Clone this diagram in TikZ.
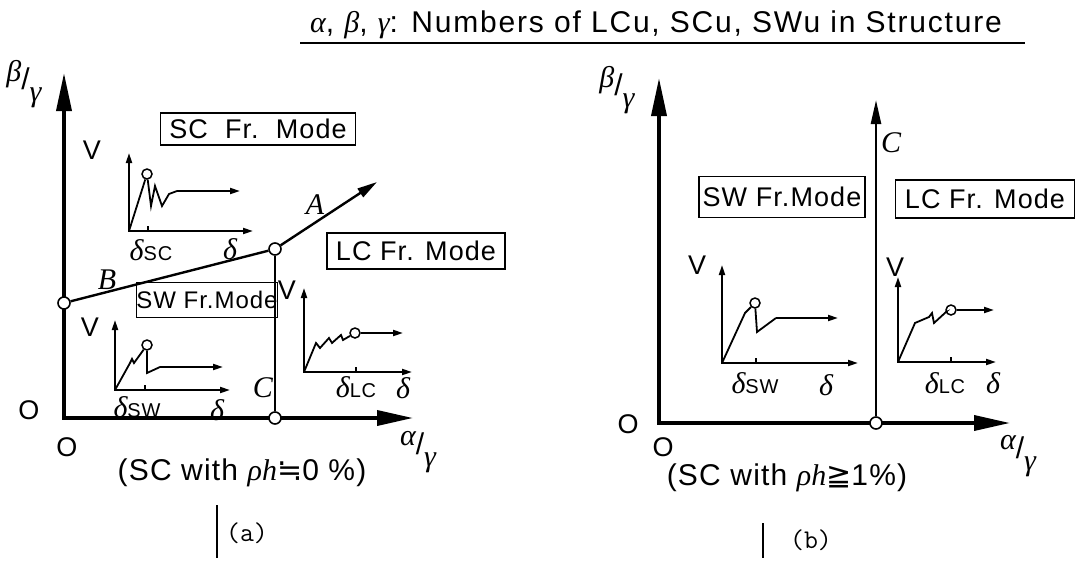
\documentclass[tikz,border=0pt]{standalone}
\usepackage{fontspec}
\setmainfont{Liberation Sans}[LetterSpace=4]
\newfontfamily\grkfont{Liberation Serif}
\newfontfamily\symfont{DejaVu Sans}
\usetikzlibrary{arrows.meta,positioning}
\newcommand{\gk}[1]{{\grkfont\itshape #1}}
\newcommand{\slantratio}[2]{\raisebox{0.55ex}{\gk{#1}}/\raisebox{-0.75ex}{\gk{#2}}}

\begin{document}
\begin{tikzpicture}[x=1pt, y=-1pt,
  every node/.style={inner sep=0pt},
  txt/.style={font=\fontsize{27}{30}\selectfont},
  sub/.style={font=\fontsize{30}{32}\selectfont},
  mathlbl/.style={font=\fontsize{30}{32}\selectfont},
  modebox/.style={draw, line width=1.4pt, txt},
  axis/.style={line width=3.6pt, {Triangle[length=38pt,width=15pt]}-{Triangle[length=36pt,width=15pt]}},
  bound/.style={line width=2.4pt},
  arr/.style={bound, -{Triangle[length=20pt,width=10pt]}},
  mini/.style={line width=1.8pt},
  miniax/.style={mini, {Triangle[length=10pt,width=6pt]}-{Triangle[length=10pt,width=6pt]}},
  miniarr/.style={mini, -{Triangle[length=10pt,width=6pt]}},
  knot/.style={circle, draw, fill=white, line width=1.6pt, minimum size=12pt},
  peak/.style={circle, draw, fill=white, line width=1.5pt, minimum size=10pt}
]
\useasboundingbox (0,0) rectangle (1077,560);

% title
\node[font=\fontsize{30}{32}\selectfont\addfontfeatures{LetterSpace=6}] (title) at (656,25)
  {\gk{α}, \gk{β}, \gk{γ}: Numbers of LCu, SCu, SWu in Structure};
\coordinate (ulL) at (300,43);
\coordinate (ulR) at (1025,43);
\draw[line width=1.4pt] (ulL) -- (ulR);

% ---- panel (a)
\coordinate (ya) at (64,73);
\coordinate (xa) at (413,418);
\draw[axis] (ya) |- (xa);
\node[knot] (pb) at (64,303) {};
\node[knot] (pm) at (275,249) {};
\node[knot] (pc) at (275,418) {};
\coordinate (atip) at (377,182);
\draw[bound] (pb) -- (pm);
\draw[arr] (pm) -- (atip);
\draw[bound] (pm) -- (pc);

\node[mathlbl] (la) at (315,205) {\gk{A}};
\node[mathlbl] (lb) at (107,280) {\gk{B}};
\node[mathlbl] (lc) at (263,388) {\gk{C}};
\node[mathlbl] (yla) at (24,84) {\slantratio{β}{γ}};
\node[mathlbl] (xla) at (418,452) {\slantratio{α}{γ}};
\node[txt] (oleft) at (29,410) {O};
\node[txt] (ozero) at (67,447) {O};

\node[modebox, minimum width=195pt, minimum height=32pt] (scmode) at (258,129) {SC~~Fr.~~Mode};
\node[modebox, minimum width=178pt, minimum height=36pt] (lcmode) at (416,251) {LC Fr. Mode};
\node[modebox, font=\fontsize{24}{26}\selectfont, minimum width=140pt, minimum height=35pt] (swmode) at (207,300) {SW Fr.Mode};

\node[txt] (vsc) at (92,150) {V};
\node[txt] (vsw) at (90,327) {V};
\node[txt] (vlc) at (287,290) {V};

% SC curve
\begin{scope}[shift={(129,231)}]
  \draw[miniax] (0,-78) |- (124,0);
  \draw[mini] (19,0) -- (19,-5);
  \node[peak] (scpk) at (18,-57) {};
  \draw[mini] (0,0) -- (scpk);
  \draw[mini] (scpk) -- (22,-25) -- (26,-45) -- (33,-25) -- (40,-37) -- (48,-40);
  \draw[miniarr] (48,-40) -- (111,-40);
  \node[sub] (dsc) at (22,19) {\gk{δ}\fontsize{20}{22}\selectfont SC};
  \node[mathlbl] (dsca) at (101,18) {\gk{δ}};
\end{scope}

% SW curve
\begin{scope}[shift={(115,390)}]
  \draw[miniax] (0,-70) |- (115,0);
  \draw[mini] (30,0) -- (30,-5);
  \node[peak] (swpk) at (32,-45) {};
  \draw[mini] (0,0) -- (15,-27) -- (17,-31) -- (19,-27) -- (swpk);
  \draw[mini] (swpk) -- (32,-17) -- (45,-23);
  \draw[miniarr] (45,-23) -- (108,-23);
  \node[sub] (dsw) at (22,17) {\gk{δ}\fontsize{20}{22}\selectfont SW};
  \node[mathlbl] (dswa) at (102,20) {\gk{δ}};
\end{scope}

% LC curve
\begin{scope}[shift={(304,372)}]
  \draw[miniax] (0,-84) |- (108,0);
  \draw[mini] (52,0) -- (52,-5);
  \node[peak] (lcpk) at (51,-39) {};
  \draw[mini] (0,0) -- (12,-29) -- (16,-24) -- (25,-34) -- (28,-29) -- (37,-37) -- (39,-32) -- (lcpk);
  \draw[miniarr] (lcpk) -- (99,-39);
  \node[sub] (dlc) at (52,15) {\gk{δ}\fontsize{20}{22}\selectfont LC};
  \node[mathlbl] (dlca) at (99,16) {\gk{δ}};
\end{scope}

\node[font=\fontsize{30}{32}\selectfont] (capa) at (242,473) {(SC with \gk{ρh}{\symfont ≒}0 \%)};
\node[font=\ttfamily\fontsize{27}{30}\selectfont] (taga) at (247,533) {(a)};
\coordinate (bara) at (217,505);
\draw[line width=1.4pt] (bara) -- ++(0,53);

% ---- panel (b)
\coordinate (yb) at (659,78);
\coordinate (xb) at (1010,423);
\draw[axis] (yb) |- (xb);
\node[knot] (pcb) at (876,423) {};
\coordinate (ctip) at (876,100);
\draw[bound, -{Triangle[length=24pt,width=10pt]}] (pcb) -- (ctip);
\node[mathlbl] (lcb) at (891,143) {\gk{C}};
\node[mathlbl] (ylb) at (617,90) {\slantratio{β}{γ}};
\node[mathlbl] (xlb) at (1018,456) {\slantratio{α}{γ}};
\node[txt] (olb) at (628,424) {O};
\node[txt] (ozb) at (663,447) {O};

\node[modebox, minimum width=166pt, minimum height=41pt] (swmodeb) at (782,197) {SW Fr.Mode};
\node[modebox, minimum width=179pt, minimum height=38pt] (lcmodeb) at (985,199) {LC Fr. Mode};

\node[txt] (vswb) at (697,265) {V};
\node[txt] (vlcb) at (895,267) {V};

% SW curve
\begin{scope}[shift={(722,363)}]
  \draw[miniax] (0,-98) |- (136,0);
  \draw[mini] (34,0) -- (34,-5);
  \node[peak] (swpkb) at (33,-60) {};
  \draw[mini] (0,0) -- (23,-50) -- (swpkb);
  \draw[mini] (swpkb) -- (35,-31) -- (54,-45);
  \draw[miniarr] (54,-45) -- (116,-45);
  \node[sub] (dswb) at (33,20) {\gk{δ}\fontsize{20}{22}\selectfont SW};
  \node[mathlbl] (dswba) at (104,22) {\gk{δ}};
\end{scope}

% LC curve
\begin{scope}[shift={(898,362)}]
  \draw[miniax] (0,-85) |- (98,0);
  \draw[mini] (53,0) -- (53,-5);
  \node[peak] (lcpkb) at (53,-52) {};
  \draw[mini] (0,0) -- (17,-39) -- (31,-45) -- (34,-49) -- (36,-39) -- (48,-50) -- (lcpkb);
  \draw[miniarr] (lcpkb) -- (96,-52);
  \node[sub] (dlcb) at (47,21) {\gk{δ}\fontsize{20}{22}\selectfont LC};
  \node[mathlbl] (dlcba) at (95,21) {\gk{δ}};
\end{scope}

\node[font=\fontsize{30}{32}\selectfont] (capb) at (787,478) {(SC with \gk{ρh}{\symfont ≧}1\%)};
\node[font=\ttfamily\fontsize{27}{30}\selectfont] (tagb) at (811,540) {(b)};
\coordinate (barb) at (763,523);
\draw[line width=1.4pt] (barb) -- ++(0,35);
\end{tikzpicture}
\end{document}
